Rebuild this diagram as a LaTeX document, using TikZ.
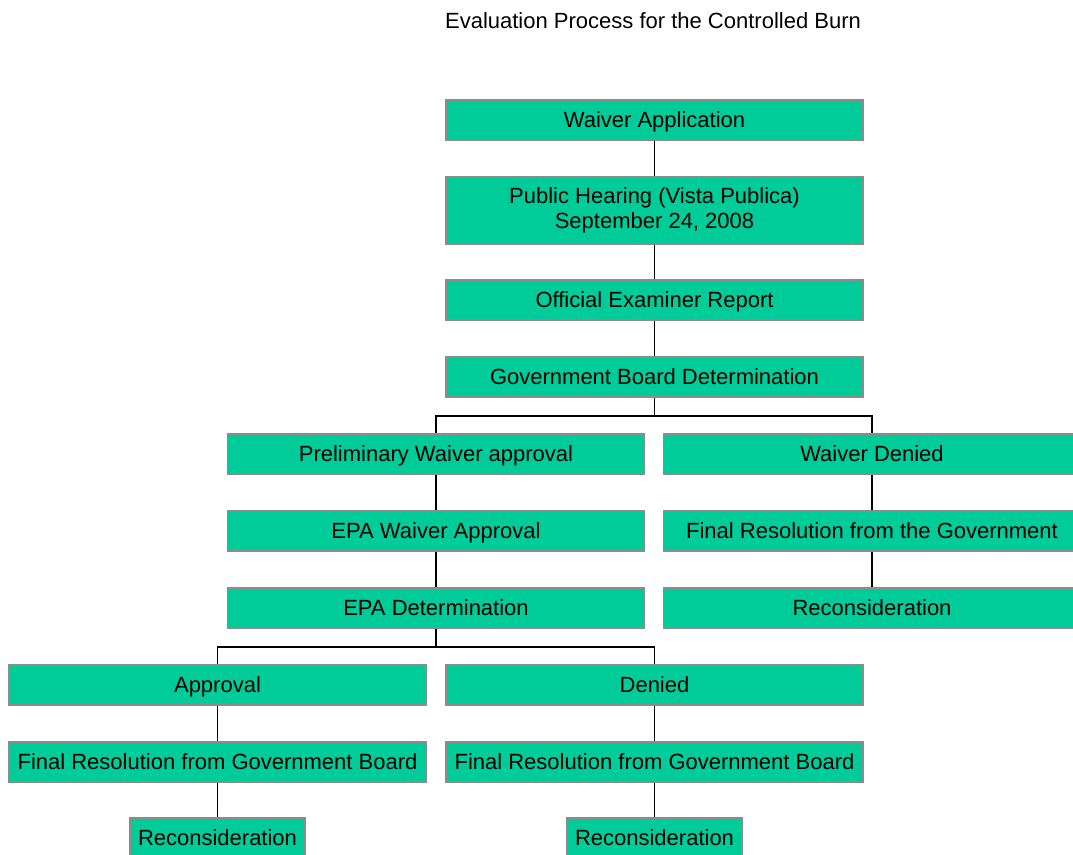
\documentclass[tikz,border=0pt]{standalone}
\usepackage{fontspec}
\setmainfont{Liberation Sans}
\definecolor{boxfill}{HTML}{00CC99}
\definecolor{boxline}{HTML}{8C8C8C}
\tikzset{
  basebox/.style={draw=boxline, line width=1.6pt, fill=boxfill, minimum width=417pt, minimum height=40pt, inner sep=0pt, align=center, font=\fontsize{22}{25}\selectfont},
  box/.style={basebox, text height=17.5pt, text depth=2.5pt},
  smallbox/.style={box, minimum width=175pt},
  conn/.style={draw=black, line width=1.4pt}
}
\begin{document}
\begin{tikzpicture}[x=1pt,y=-1pt]
\useasboundingbox (0,0) rectangle (1073,854);
\clip (0,0) rectangle (1073,854);
\node[font=\fontsize{22}{25}\selectfont, text height=17.5pt, text depth=2.5pt] (title) at (653,21) {Evaluation Process for the Controlled Burn};
\node[box] (wa) at (654.5,120) {Waiver Application};
\node[basebox, minimum height=67pt] (ph) at (654.5,210.5) {Public Hearing (Vista Publica)\\September 24, 2008};
\node[box] (oe) at (654.5,300) {Official Examiner Report};
\node[box] (gb) at (654.5,377) {Government Board Determination};
\node[box] (pw) at (436,454) {Preliminary Waiver approval};
\node[box] (wd) at (872,454) {Waiver Denied};
\node[box] (ea) at (436,531) {EPA Waiver Approval};
\node[box] (fr) at (872,531) {Final Resolution from the Government};
\node[box] (ed) at (436,608) {EPA Determination};
\node[box] (rc) at (872,608) {Reconsideration};
\node[box] (ap) at (217.5,685) {Approval};
\node[box] (dn) at (654.5,685) {Denied};
\node[box] (f1) at (217.5,762) {Final Resolution from Government Board};
\node[box] (f2) at (654.5,762) {Final Resolution from Government Board};
\node[smallbox] (r1) at (217.5,838) {Reconsideration};
\node[smallbox] (r2) at (654.5,838) {Reconsideration};
\draw[conn] (wa.south) -- (ph.north);
\draw[conn] (ph.south) -- (oe.north);
\draw[conn] (oe.south) -- (gb.north);
\draw[conn] (gb.south) -- ++(0,18) -| (pw.north);
\draw[conn] (gb.south) -- ++(0,18) -| (wd.north);
\draw[conn] (pw.south) -- (ea.north);
\draw[conn] (ea.south) -- (ed.north);
\draw[conn] (wd.south) -- (fr.north);
\draw[conn] (fr.south) -- (rc.north);
\draw[conn] (ed.south) -- ++(0,18) -| (ap.north);
\draw[conn] (ed.south) -- ++(0,18) -| (dn.north);
\draw[conn] (ap.south) -- (f1.north);
\draw[conn] (f1.south) -- (r1.north);
\draw[conn] (dn.south) -- (f2.north);
\draw[conn] (f2.south) -- (r2.north);
\end{tikzpicture}
\end{document}
